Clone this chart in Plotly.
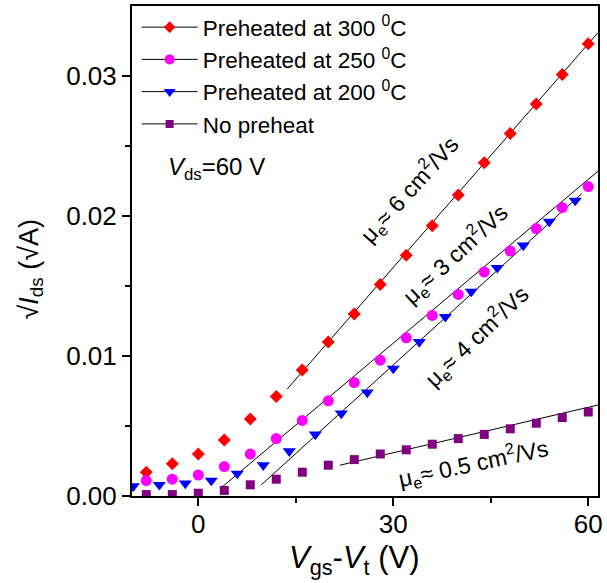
import plotly.graph_objects as go

FONT = "Arial, Liberation Sans, sans-serif"

# ---- data ----
x_even = [-8, -4, 0, 4, 8, 12, 16, 20, 24, 28, 32, 36, 40, 44, 48, 52, 56, 60]
x_blue = [-10, -6, -2, 2, 6, 10, 14, 18, 22, 26, 30, 34, 38, 42, 46, 50, 54, 58]

y_300 = [0.0017, 0.0023, 0.0030, 0.0040, 0.0055, 0.0071, 0.0090, 0.0110, 0.0130,
         0.0151, 0.0172, 0.0193, 0.0215, 0.0238, 0.0259, 0.0280, 0.0301, 0.0323]
y_250 = [0.0011, 0.0012, 0.0015, 0.0021, 0.0030, 0.0041, 0.0054, 0.0068, 0.0081,
         0.0097, 0.0113, 0.0129, 0.0144, 0.0160, 0.0175, 0.0191, 0.0206, 0.0221]
y_200 = [0.0007, 0.0008, 0.0009, 0.0011, 0.0016, 0.0022, 0.0032, 0.0044, 0.0059,
         0.0074, 0.0091, 0.0110, 0.0128, 0.0146, 0.0163, 0.0179, 0.0196, 0.0211]
y_none = [0.0001, 0.0001, 0.0002, 0.0004, 0.0008, 0.0012, 0.0017, 0.0022, 0.0026,
          0.0030, 0.0033, 0.0037, 0.0041, 0.0044, 0.0048, 0.0052, 0.0056, 0.0060]

# linear-fit lines (end points)
fit_300_x = [13.7, 61.5]
fit_300_y = [0.00765, 0.0331]
fit_250_x = [3.8, 61.5]
fit_250_y = [0.0007, 0.0232]
fit_200_x = [9.7, 59.0]
fit_200_y = [0.0008, 0.0216]
fit_none_x = [21.8, 61.5]
fit_none_y = [0.0022, 0.0065]

labels = ["Preheated at 300 <sup>0</sup>C", "Preheated at 250 <sup>0</sup>C",
          "Preheated at 200 <sup>0</sup>C", "No preheat"]
colors = ["#FF0000", "#FF00FF", "#0000FF", "#800080"]
symbols = ["diamond", "circle", "triangle-down", "square"]
sizes = [10, 11, 11.5, 9]

series = [(x_even, y_300), (x_even, y_250), (x_blue, y_200), (x_even, y_none)]
fits = [(fit_300_x, fit_300_y), (fit_250_x, fit_250_y),
        (fit_200_x, fit_200_y), (fit_none_x, fit_none_y)]

fig = go.Figure()

for (fx, fy) in fits:
    fig.add_trace(go.Scatter(x=fx, y=fy, mode="lines",
                             line=dict(color="black", width=1),
                             showlegend=False, hoverinfo="skip"))

for (sx, sy), c, s, sz in zip(series, colors, symbols, sizes):
    fig.add_trace(go.Scatter(x=sx, y=sy, mode="markers",
                             marker=dict(color=c, symbol=s, size=sz, line=dict(width=0)),
                             showlegend=False))

# legend entries (line + symbol)
for lab, c, s, sz in zip(labels, colors, symbols, sizes):
    fig.add_trace(go.Scatter(x=[None], y=[None], mode="lines+markers", name=lab,
                             line=dict(color="black", width=1),
                             marker=dict(color=c, symbol=s, size=sz - 1, line=dict(width=0))))

ann_font = dict(family=FONT, size=23, color="black")
annotations = [
    dict(x=32.4, y=0.02195, text="μ<sub>e</sub>≈ 6 cm<sup>2</sup>/Vs", textangle=-48),
    dict(x=39.4, y=0.01732, text="μ<sub>e</sub>≈ 3 cm<sup>2</sup>/Vs", textangle=-43),
    dict(x=42.8, y=0.0114, text="μ<sub>e</sub>≈ 4 cm<sup>2</sup>/Vs", textangle=-44),
    dict(x=42.3, y=0.00235, text="μ<sub>e</sub>≈ 0.5 cm<sup>2</sup>/Vs", textangle=-12),
]
for a in annotations:
    fig.add_annotation(xref="x", yref="y", showarrow=False, font=ann_font,
                       xanchor="center", yanchor="middle", **a)

fig.add_annotation(xref="x", yref="y", x=-4.9, y=0.0234, showarrow=False,
                   xanchor="left", yanchor="middle",
                   font=dict(family=FONT, size=24, color="black"),
                   text="<i>V</i><sub>ds</sub>=60 V")

# axis titles placed as annotations (positions relative to plot area)
fig.add_annotation(xref="paper", yref="paper", x=0.4777, y=-0.1315, showarrow=False,
                   xanchor="center", yanchor="middle",
                   font=dict(family=FONT, size=31, color="black"),
                   text="<i>V</i><sub>gs</sub>-<i>V</i><sub>t</sub> (V)")
fig.add_annotation(xref="paper", yref="paper", x=-0.2166, y=0.4623, showarrow=False,
                   xanchor="center", yanchor="middle", textangle=-90,
                   font=dict(family=FONT, size=27, color="black"),
                   text="√<i>I</i><sub>ds</sub> (√A)")

fig.update_layout(
    width=607, height=583,
    margin=dict(l=132, r=4, t=5, b=87),
    paper_bgcolor="white", plot_bgcolor="white",
    font=dict(family=FONT, color="black"),
    showlegend=True,
    legend=dict(x=0.01, y=1.0, xanchor="left", yanchor="top",
                bgcolor="rgba(0,0,0,0)", borderwidth=0,
                font=dict(family=FONT, size=22.5), itemwidth=56,
                tracegroupgap=0),
)

fig.update_xaxes(
    range=[-10.2, 61.5], tickmode="array", tickvals=[0, 30, 60], ticktext=["0", "30", "60"],
    ticks="outside", ticklen=8, tickwidth=1.5, tickcolor="black",
    minor=dict(tickvals=[15, 45], ticks="outside", ticklen=5, tickwidth=1.5, tickcolor="black"),
    showline=True, linewidth=2, linecolor="black", mirror=True,
    showgrid=False, zeroline=False, ticklabelstandoff=-4,
    tickfont=dict(family=FONT, size=26),
)
fig.update_yaxes(
    range=[0, 0.035], tickmode="array", tickvals=[0, 0.01, 0.02, 0.03],
    ticktext=["0.00", "0.01", "0.02", "0.03"],
    ticks="outside", ticklen=8, tickwidth=1.5, tickcolor="black",
    minor=dict(tickvals=[0.005, 0.015, 0.025], ticks="outside", ticklen=5, tickwidth=1.5, tickcolor="black"),
    showline=True, linewidth=2, linecolor="black", mirror=True,
    showgrid=False, zeroline=False,
    tickfont=dict(family=FONT, size=26),
)

fig.write_html("out.html")
